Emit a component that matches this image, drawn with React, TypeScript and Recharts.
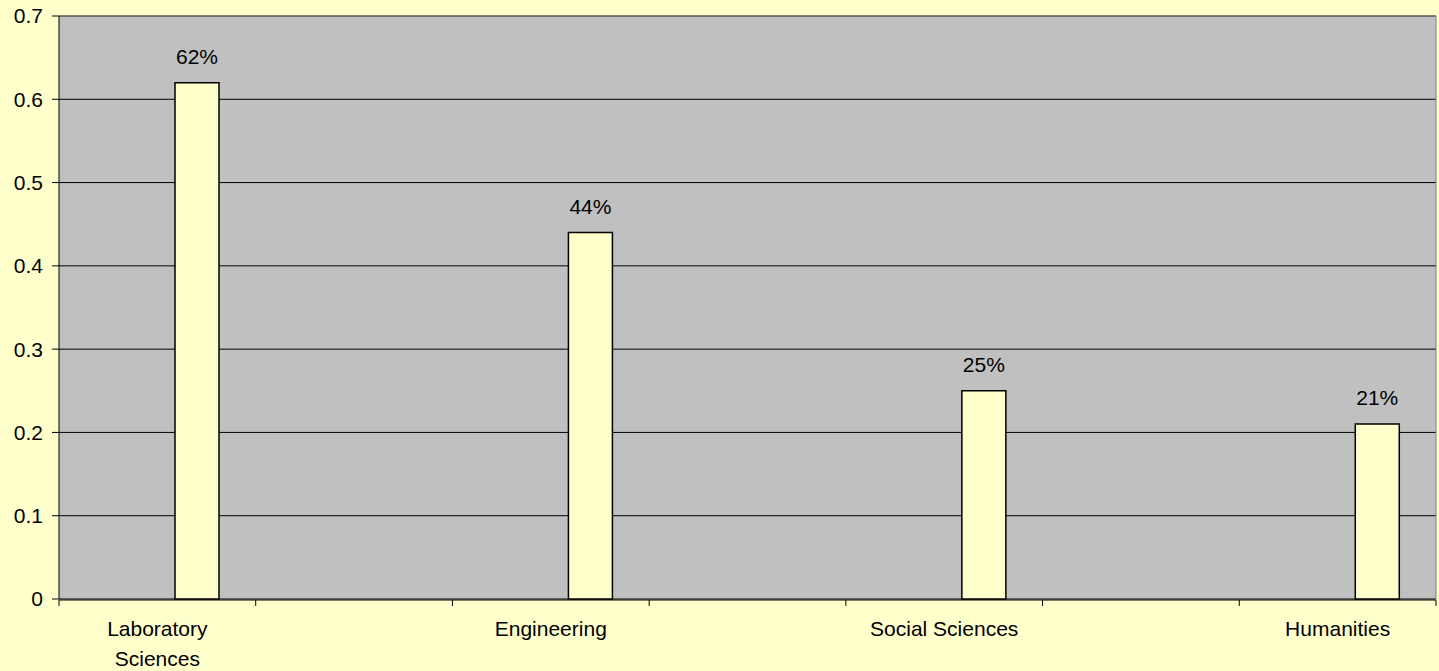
import React from 'react';
import { BarChart, Bar, XAxis, YAxis, CartesianGrid, LabelList, ReferenceLine } from 'recharts';

// 7 category slots, the blank ones are spacer rows from the original sheet
const categories = ['Laboratory Sciences', '', 'Engineering', '', 'Social Sciences', '', 'Humanities'];
const blankSeries: (number | null)[] = [null, null, null, null, null, null, null];
const shareSeries: (number | null)[] = [0.62, null, 0.44, null, 0.25, null, 0.21];
const yTicks = [0, 0.1, 0.2, 0.3, 0.4, 0.5, 0.6, 0.7];
const edgeTicks = [0, 1, 2, 3, 4, 5, 6, 7];

// slot = middle of each category on a 0..7 numeric axis, used for the boundary tick marks
const data = categories.map((name, i) => ({ name, slot: i + 0.5, blank: blankSeries[i], share: shareSeries[i] }));

const FONT = 'Liberation Sans, Arial, Helvetica, sans-serif';
const BG = '#FFFFCC';

// greedy word wrap by character count, Excel broke the long label in two
const wrap = (s: string, max = 17) => {
  const lines: string[] = [];
  let cur = '';
  s.split(' ').forEach((w) => {
    const next = cur ? cur + ' ' + w : w;
    if (next.length > max && cur) {
      lines.push(cur);
      cur = w;
    } else cur = next;
  });
  if (cur) lines.push(cur);
  return lines;
};

const CategoryTick = (props: any) => {
  const { x, y, payload } = props;
  if (!payload || !payload.value) return <g />;
  return (
    <text x={x} y={y + 37} textAnchor="middle" fontSize={21} fontFamily={FONT} fill="#000">
      {wrap(payload.value).map((line, i) => (
        <tspan key={i} x={x} dy={i === 0 ? 0 : 30}>
          {line}
        </tspan>
      ))}
    </text>
  );
};

const NoLabel = () => <g />;

const App: React.FC = () => {
  return (
    <div style={{ position: 'absolute', left: 0, top: 0, width: 1439, height: 671, background: BG }}>
      <BarChart
        width={1439}
        height={671}
        data={data}
        margin={{ top: 16, right: 3, bottom: 70, left: 0 }}
        barSize={44}
        barGap={36}
      >
        <CartesianGrid vertical={false} stroke="#000" fill="#C0C0C0" fillOpacity={1} />
        <XAxis
          xAxisId="edges"
          dataKey="slot"
          type="number"
          domain={[0, 7]}
          ticks={edgeTicks}
          allowDataOverflow
          height={1}
          tick={NoLabel}
          tickSize={6}
          axisLine={{ stroke: '#000' }}
          tickLine={{ stroke: '#000' }}
        />
        <XAxis
          dataKey="name"
          height={1}
          axisLine={false}
          tickLine={false}
          tickSize={0}
          tickMargin={0}
          interval={0}
          tick={CategoryTick}
        />
        <YAxis
          domain={[0, 0.7]}
          ticks={yTicks}
          width={59}
          tickSize={7}
          tickMargin={9}
          axisLine={{ stroke: '#000' }}
          tickLine={{ stroke: '#000' }}
          tick={{ fontSize: 21, fontFamily: FONT, fill: '#000' }}
        />
        <ReferenceLine y={0.7} stroke="#808080" />
        <ReferenceLine x={7} xAxisId="edges" stroke="#808080" />
        <Bar dataKey="blank" fill={BG} stroke="#000" isAnimationActive={false} />
        <Bar dataKey="share" fill={BG} stroke="#000" strokeWidth={1.5} isAnimationActive={false}>
          <LabelList
            dataKey="share"
            position="top"
            offset={19}
            fontSize={21}
            fontFamily={FONT}
            fill="#000"
            formatter={(v: any) => (v == null ? '' : `${Math.round(v * 100)}%`)}
          />
        </Bar>
      </BarChart>
    </div>
  );
};

export default App;
